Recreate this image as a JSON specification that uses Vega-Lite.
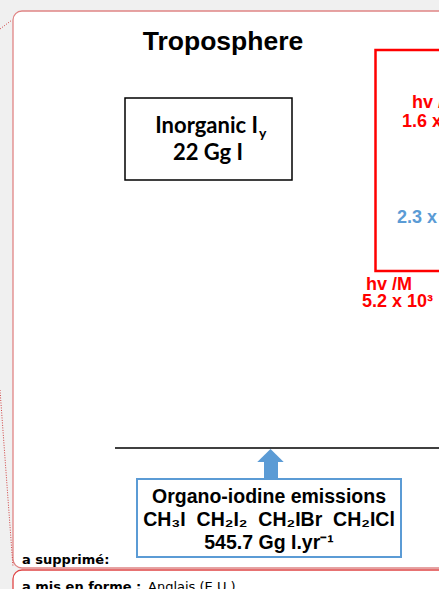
{
  "$schema": "https://vega.github.io/schema/vega-lite/v6.json",
  "width": 439,
  "height": 589,
  "padding": 0,
  "autosize": {"type": "none"},
  "background": "#f0f0f0",
  "config": {"view": {"stroke": null}, "axis": {"disable": true}},
  "encoding": {
    "x": {"field": "x", "type": "quantitative", "scale": {"domain": [0, 439], "nice": false, "zero": false}},
    "y": {"field": "y", "type": "quantitative", "scale": {"domain": [0, 589], "nice": false, "zero": false, "reverse": true}}
  },
  "layer": [
    {
      "data": {"values": [{"x": 13, "x2": 460, "y": 11, "y2": 568}]},
      "mark": {"type": "rect", "fill": "#ffffff", "stroke": "#e08585", "strokeWidth": 1.3, "cornerRadius": 9},
      "encoding": {"x2": {"field": "x2"}, "y2": {"field": "y2"}}
    },
    {
      "data": {"values": [{"x": 13, "x2": 460, "y": 570, "y2": 620}]},
      "mark": {"type": "rect", "fill": "#ffffff", "stroke": "#e04545", "strokeWidth": 1.3, "cornerRadius": 9},
      "encoding": {"x2": {"field": "x2"}, "y2": {"field": "y2"}}
    },
    {
      "data": {"values": [{"x": 0, "x2": 12, "y": 29, "y2": 20}, {"x": 0, "x2": 13, "y": 390, "y2": 567}]},
      "mark": {"type": "rule", "stroke": "#d04040", "strokeWidth": 1, "strokeDash": [1, 1.5]},
      "encoding": {"x2": {"field": "x2"}, "y2": {"field": "y2"}}
    },
    {
      "data": {"values": [{"x": 125, "x2": 292, "y": 98, "y2": 180}]},
      "mark": {"type": "rect", "fill": "#ffffff", "stroke": "#000000", "strokeWidth": 1.5},
      "encoding": {"x2": {"field": "x2"}, "y2": {"field": "y2"}}
    },
    {
      "data": {"values": [{"x": 375.5, "x2": 450, "y": 50, "y2": 271}]},
      "mark": {"type": "rect", "fill": null, "stroke": "#ff0000", "strokeWidth": 2.5},
      "encoding": {"x2": {"field": "x2"}, "y2": {"field": "y2"}}
    },
    {
      "data": {"values": [{"x": 115, "x2": 445, "y": 448, "y2": 448}]},
      "mark": {"type": "rule", "stroke": "#000000", "strokeWidth": 1.5},
      "encoding": {"x2": {"field": "x2"}, "y2": {"field": "y2"}}
    },
    {
      "data": {"values": [{"x": 264, "x2": 278, "y": 461, "y2": 480}]},
      "mark": {"type": "rect", "fill": "#5b9bd5"},
      "encoding": {"x2": {"field": "x2"}, "y2": {"field": "y2"}}
    },
    {
      "data": {"values": [{"x": 270.5, "y": 455.5}]},
      "mark": {"type": "point", "shape": "M-1,0.5L0,-0.5L1,0.5Z", "filled": true, "fill": "#5b9bd5", "opacity": 1, "size": 700, "strokeWidth": 0}
    },
    {
      "data": {"values": [{"x": 137, "x2": 401, "y": 479, "y2": 557}]},
      "mark": {"type": "rect", "fill": "#ffffff", "stroke": "#5b9bd5", "strokeWidth": 2},
      "encoding": {"x2": {"field": "x2"}, "y2": {"field": "y2"}}
    },
    {
      "data": {"values": [{"x": 223, "y": 50, "t": "Troposphere"}]},
      "mark": {"type": "text", "font": "Liberation Sans", "fontWeight": "bold", "fontSize": 26.5, "align": "center", "baseline": "alphabetic", "color": "#000000"},
      "encoding": {"text": {"field": "t"}}
    },
    {
      "data": {"values": [{"x": 258, "y": 133, "t": "Inorganic I"}]},
      "mark": {"type": "text", "font": "Lato", "fontWeight": "bold", "fontSize": 22, "align": "right", "baseline": "alphabetic", "color": "#000000"},
      "encoding": {"text": {"field": "t"}}
    },
    {
      "data": {"values": [{"x": 208, "y": 160, "t": "22 Gg I"}]},
      "mark": {"type": "text", "font": "Lato", "fontWeight": "bold", "fontSize": 22, "align": "center", "baseline": "alphabetic", "color": "#000000"},
      "encoding": {"text": {"field": "t"}}
    },
    {
      "data": {"values": [{"x": 259, "y": 138, "t": "y"}]},
      "mark": {"type": "text", "font": "Lato", "fontWeight": "bold", "fontSize": 14, "align": "left", "baseline": "alphabetic", "color": "#000000"},
      "encoding": {"text": {"field": "t"}}
    },
    {
      "data": {"values": [{"x": 412, "y": 108, "t": "hv /M"}, {"x": 402, "y": 127, "t": "1.6 x 10³"}, {"x": 366, "y": 290, "t": "hv /M"}, {"x": 362, "y": 307, "t": "5.2 x 10³"}]},
      "mark": {"type": "text", "font": "Liberation Sans", "fontWeight": "bold", "fontSize": 18, "align": "left", "baseline": "alphabetic", "color": "#ff0000"},
      "encoding": {"text": {"field": "t"}}
    },
    {
      "data": {"values": [{"x": 397, "y": 223, "t": "2.3 x 10³"}]},
      "mark": {"type": "text", "font": "Liberation Sans", "fontWeight": "bold", "fontSize": 18, "align": "left", "baseline": "alphabetic", "color": "#5b9bd5"},
      "encoding": {"text": {"field": "t"}}
    },
    {
      "data": {"values": [{"x": 269, "y": 503, "t": "Organo-iodine emissions"}, {"x": 269, "y": 526, "t": "CH₃I\u00a0\u00a0CH₂I₂\u00a0\u00a0CH₂IBr\u00a0\u00a0CH₂ICl"}, {"x": 269, "y": 549, "t": "545.7 Gg I.yr⁻¹"}]},
      "mark": {"type": "text", "font": "Liberation Sans", "fontWeight": "bold", "fontSize": 19.5, "align": "center", "baseline": "alphabetic", "color": "#000000"},
      "encoding": {"text": {"field": "t"}}
    },
    {
      "data": {"values": [{"x": 22, "y": 564, "t": "a supprimé:"}, {"x": 22, "y": 591, "t": "a mis en forme :"}]},
      "mark": {"type": "text", "font": "DejaVu Sans", "fontWeight": "bold", "fontSize": 13, "align": "left", "baseline": "alphabetic", "color": "#000000"},
      "encoding": {"text": {"field": "t"}}
    },
    {
      "data": {"values": [{"x": 148, "y": 591, "t": "Anglais (E.U.)"}]},
      "mark": {"type": "text", "font": "DejaVu Sans", "fontSize": 13, "align": "left", "baseline": "alphabetic", "color": "#000000"},
      "encoding": {"text": {"field": "t"}}
    }
  ]
}
